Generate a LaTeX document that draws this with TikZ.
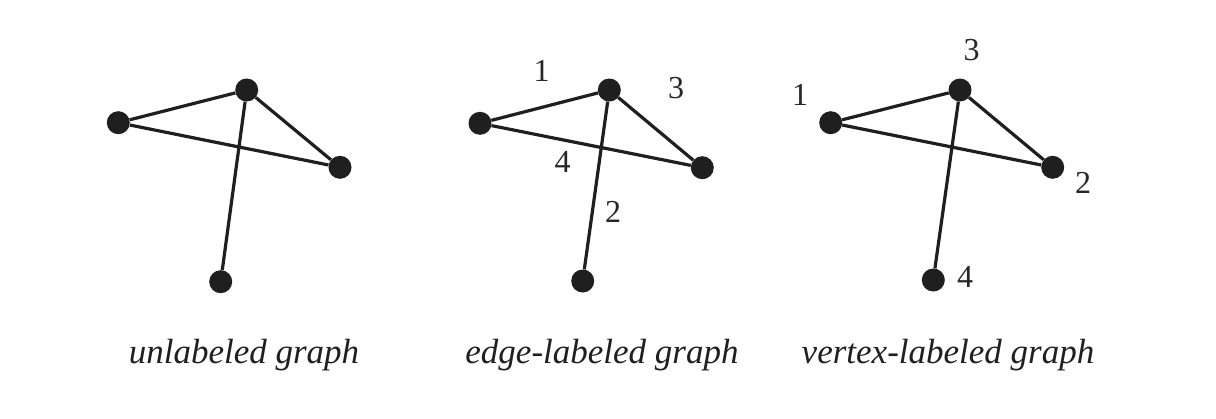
\documentclass[tikz,border=0pt]{standalone}
\usepackage{fontspec}
\setmainfont{Liberation Serif}
\begin{document}
\begin{tikzpicture}[x=1pt,y=-1pt,
  vert/.style={circle,fill=black!88,inner sep=0pt,minimum size=23pt},
  edge/.style={line width=3.2pt,draw=black!88},
  num/.style={font=\fontsize{32}{36}\selectfont,inner sep=0pt,text=black!85},
  captext/.style={font=\fontsize{35}{40}\selectfont\itshape,anchor=base,inner sep=0pt,text=black!88}]
\useasboundingbox[fill=white] (0,0) rectangle (1216,418);
% graph 1
\node[vert] (a1) at (118.3,122.7) {};
\node[vert] (b1) at (246.7,90) {};
\node[vert] (c1) at (340,167.3) {};
\node[vert] (d1) at (220.7,281.7) {};
\draw[edge] (a1) -- (b1) (a1) -- (c1) (b1) -- (c1) (b1) -- (d1);
% graph 2
\node[vert] (a2) at (480,123.3) {};
\node[vert] (b2) at (609.3,90) {};
\node[vert] (c2) at (702.3,167.7) {};
\node[vert] (d2) at (582.7,281) {};
\draw[edge] (a2) -- (b2) (a2) -- (c2) (b2) -- (c2) (b2) -- (d2);
\node[num] (e1) at (541.7,71) {1};
\node[num] (e3) at (676,88) {3};
\node[num] (e4) at (562.7,161.7) {4};
\node[num] (e2) at (613,211.7) {2};
% graph 3
\node[vert] (a3) at (830.7,122.7) {};
\node[vert] (b3) at (960,90) {};
\node[vert] (c3) at (1052.7,167.3) {};
\node[vert] (d3) at (933.3,280) {};
\draw[edge] (a3) -- (b3) (a3) -- (c3) (b3) -- (c3) (b3) -- (d3);
\node[num] (v1) at (800,95) {1};
\node[num] (v3) at (971.7,50) {3};
\node[num] (v2) at (1083,183) {2};
\node[num] (v4) at (965,276.7) {4};
% captions
\node[captext] (t1) at (244,363) {unlabeled graph};
\node[captext] (t2) at (602,363) {edge-labeled graph};
\node[captext] (t3) at (948,363) {vertex-labeled graph};
\end{tikzpicture}
\end{document}
